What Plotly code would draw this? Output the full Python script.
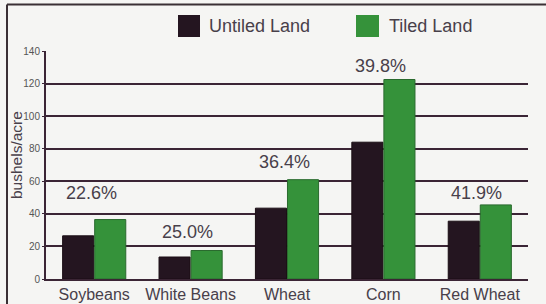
import plotly.graph_objects as go

categories = ["Soybeans", "White Beans", "Wheat", "Corn", "Red Wheat"]
untiled = [26.5, 13.5, 43.5, 84, 35.5]
tiled = [36.5, 17.5, 61, 122.5, 45.5]
gain_labels = ["22.6%", "25.0%", "36.4%", "39.8%", "41.9%"]
gain_label_y = [53, 29, 72, 131, 53]
y_ticks = [0, 20, 40, 60, 80, 100, 120, 140]
series_names = ["Untiled Land", "Tiled Land"]

c_untiled = "#241520"
c_tiled = "#35923a"
c_grid = "#3b2535"
c_text = "#48404a"
font_fam = "Liberation Sans, Arial, sans-serif"

W, H = 546, 304
L, R, T, B = 46, 18, 51, 25
pw, ph = W - L - R, H - T - B

def px_x(p):
    return (p - L) / pw

def px_y(p):
    return (H - B - p) / ph

fig = go.Figure()
fig.add_trace(go.Bar(x=categories, y=untiled, name=series_names[0],
                     marker=dict(color=c_untiled, line=dict(color="#1a0d14", width=1)),
                     showlegend=False))
fig.add_trace(go.Bar(x=categories, y=tiled, name=series_names[1],
                     marker=dict(color=c_tiled, line=dict(color="#2a6a2e", width=1)),
                     showlegend=False))

for cat, lab, ly in zip(categories, gain_labels, gain_label_y):
    fig.add_annotation(x=cat, y=ly, text=lab, showarrow=False, xshift=-3,
                       font=dict(family=font_fam, size=18, color=c_text),
                       xanchor="center", yanchor="middle")

# custom legend
shapes = []
legend_items = [(series_names[0], c_untiled, 178, 200, 207),
                (series_names[1], c_tiled, 356, 379, 387)]
for name, col, sx0, sx1, tx in legend_items:
    shapes.append(dict(type="rect", xref="paper", yref="paper",
                       x0=px_x(sx0), x1=px_x(sx1), y0=px_y(37), y1=px_y(15),
                       fillcolor=col, line=dict(width=0)))
    fig.add_annotation(xref="paper", yref="paper", x=px_x(tx), y=px_y(26),
                       text=name, showarrow=False, xanchor="left", yanchor="middle",
                       font=dict(family=font_fam, size=18, color=c_text))

# y-axis title as annotation
fig.add_annotation(xref="paper", yref="paper", x=px_x(16), y=px_y(155),
                   text="bushels/acre", textangle=-90, showarrow=False,
                   xanchor="center", yanchor="middle",
                   font=dict(family=font_fam, size=15.5, color=c_text))

# outer frame lines (top and left)
shapes.append(dict(type="line", xref="paper", yref="paper",
                   x0=px_x(7), x1=px_x(546), y0=px_y(4.5), y1=px_y(4.5),
                   line=dict(color="#3a3035", width=2)))
shapes.append(dict(type="line", xref="paper", yref="paper",
                   x0=px_x(7), x1=px_x(7), y0=px_y(4.5), y1=px_y(304),
                   line=dict(color="#3a3035", width=2)))

fig.update_layout(
    width=W, height=H,
    margin=dict(l=L, r=R, t=T, b=B, autoexpand=False),
    paper_bgcolor="#f5f5f3",
    plot_bgcolor="#f5f5f3",
    barmode="group",
    bargap=0.335,
    bargroupgap=0.03,
    shapes=shapes,
    font=dict(family=font_fam, color=c_text),
)
fig.update_yaxes(range=[0, 140], tickvals=y_ticks, showgrid=True,
                 gridcolor=c_grid, gridwidth=2, zeroline=False,
                 showline=True, linecolor=c_grid, linewidth=2,
                 ticks="outside", ticklen=2, tickcolor=c_grid,
                 automargin=False,
                 tickfont=dict(size=10, color="#555555"))
fig.update_xaxes(showline=True, linecolor=c_grid, linewidth=2,
                 automargin=False,
                 tickfont=dict(size=16, color=c_text), ticks="")

fig.write_html("out.html", config={"displayModeBar": False},
               post_script="document.body.style.margin='0';document.body.style.background='#f5f5f3';")
